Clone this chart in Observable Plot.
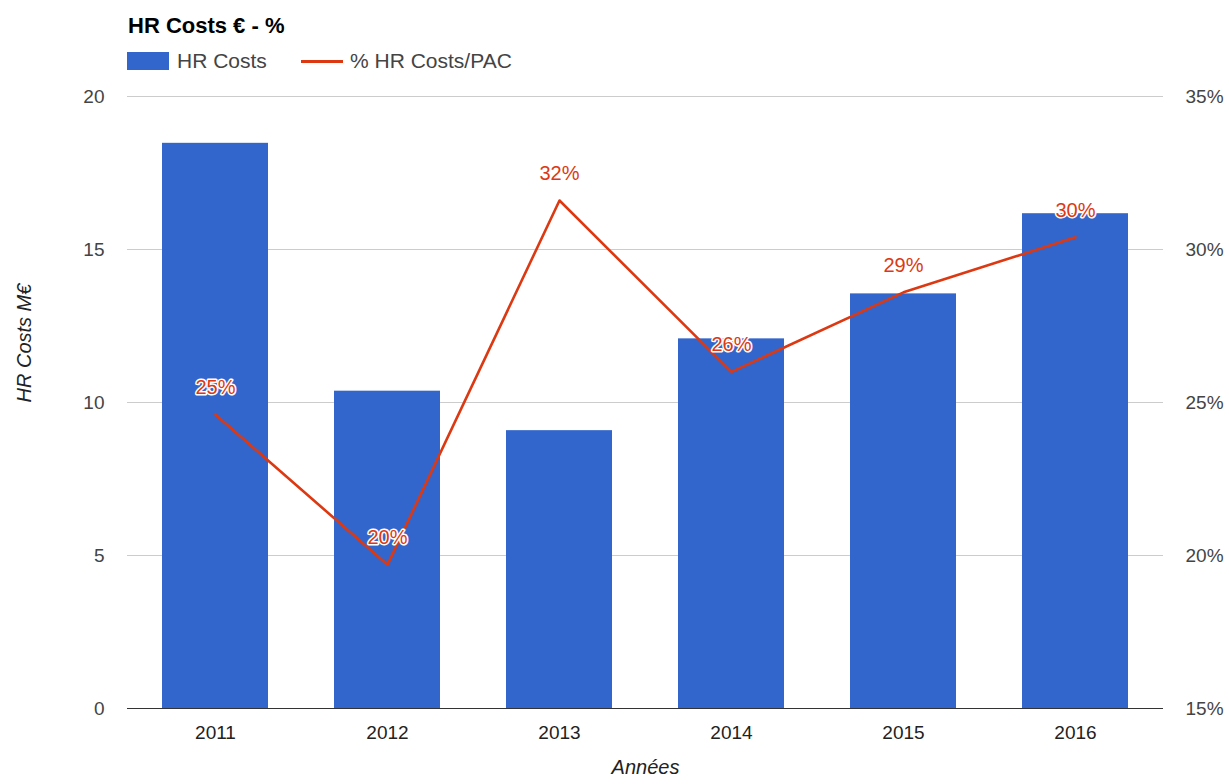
<!DOCTYPE html>
<html>
<head>
<meta charset="utf-8">
<script src="https://cdn.jsdelivr.net/npm/d3@7"></script>
<script src="https://cdn.jsdelivr.net/npm/@observablehq/plot@0.6"></script>
<style>
  body { margin: 0; background: #fff; font-family: "Liberation Sans", Arial, sans-serif; }
  #wrap { position: relative; width: 1229px; height: 784px; }
  #title { position: absolute; left: 128px; top: 13px; font-size: 22px; font-weight: bold; color: #000; line-height: normal; }
  .leg { position: absolute; top: 49px; font-size: 21px; color: #444; display: flex; align-items: center; line-height: normal; }
  .sw { display: inline-block; width: 42px; height: 18px; background: #3366cc; margin-right: 8px; }
  .ln { display: inline-block; width: 42px; height: 3px; background: #dc3912; margin-right: 7px; }
  #chart { position: absolute; left: 0; top: 0; }
</style>
</head>
<body>
<div id="wrap">
  <div id="chart"></div>
  <div id="title">HR Costs € - %</div>
  <div class="leg" style="left:127px"><span class="sw"></span>HR Costs</div>
  <div class="leg" style="left:301px"><span class="ln"></span>% HR Costs/PAC</div>
</div>
<script>
const years = ["2011", "2012", "2013", "2014", "2015", "2016"];
const hrCosts = [18.47, 10.37, 9.08, 12.08, 13.55, 16.17];
const hrPct = [24.6, 19.7, 31.6, 26.0, 28.6, 30.4];
const pctLabels = ["25%", "20%", "32%", "26%", "29%", "30%"];
const leftTicks = [0, 5, 10, 15, 20];
const rightTicks = [15, 20, 25, 30, 35];
const pctBase = 15; // right axis minimum (maps to left 0)

const data = years.map((y, i) => ({year: y, cost: hrCosts[i], pct: hrPct[i], label: pctLabels[i]}));

const chart = Plot.plot({
  width: 1229,
  height: 784,
  marginLeft: 127,
  marginRight: 66,
  marginTop: 96,
  marginBottom: 76,
  style: {fontFamily: "'Liberation Sans', Arial, sans-serif", fontSize: "19px", color: "#444", background: "transparent"},
  x: {domain: years, paddingInner: 0.385, paddingOuter: 0.1925, label: null},
  y: {domain: [0, 20], label: null},
  marks: [
    Plot.gridY(leftTicks.filter(d => d > 0), {stroke: "#ccc", strokeOpacity: 1, strokeWidth: 1}),
    Plot.barY(data, {x: "year", y: "cost", fill: "#3366cc"}),
    Plot.ruleY([0], {stroke: "#333", strokeWidth: 1}),
    Plot.line(data, {x: "year", y: d => d.pct - pctBase, stroke: "#dc3912", strokeWidth: 2.6}),
    Plot.text(data, {x: "year", y: d => d.pct - pctBase, text: "label", dy: -27, fill: "#dc3912", stroke: "white", strokeWidth: 3, fontSize: 20}),
    Plot.axisY(leftTicks, {anchor: "left", tickSize: 0, tickPadding: 23, label: null, fontSize: 19, fill: "#444"}),
    Plot.axisY(rightTicks.map(d => d - pctBase), {anchor: "right", tickSize: 0, tickPadding: 22, label: null, tickFormat: d => `${d + pctBase}%`, fontSize: 19, fill: "#444"}),
    Plot.axisX({tickSize: 0, tickPadding: 17, label: null, fontSize: 19, fill: "#222"}),
    Plot.text(["HR Costs M€"], {frameAnchor: "left", dx: -103, rotate: -90, fontStyle: "italic", fontSize: 20, fill: "#222"}),
    Plot.text(["Années"], {frameAnchor: "bottom", dy: 65, fontStyle: "italic", fontSize: 20, fill: "#222"})
  ]
});
document.getElementById("chart").appendChild(chart);
</script>
</body>
</html>
